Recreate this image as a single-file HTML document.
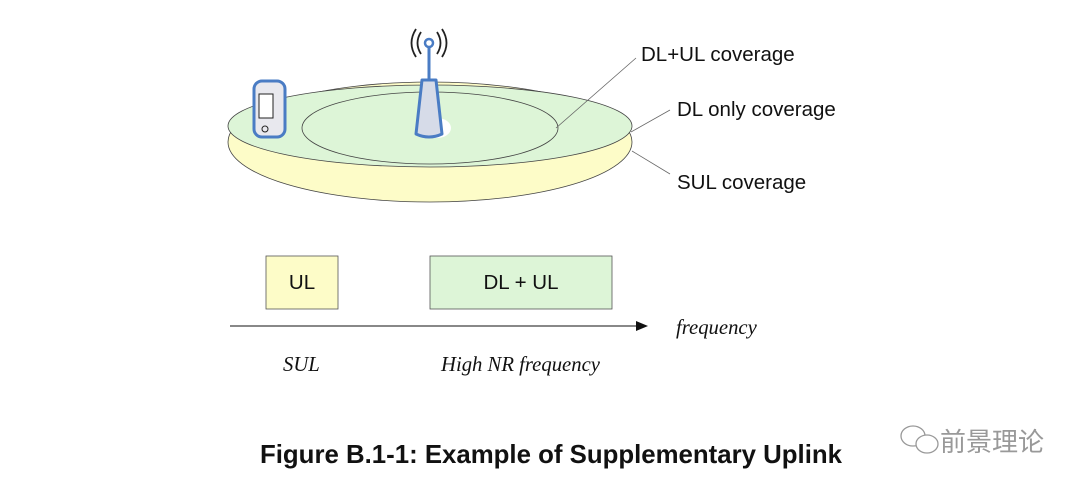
<!DOCTYPE html>
<html><head><style>
body{margin:0;background:#fff;}
</style></head><body>
<svg width="1080" height="489" xmlns="http://www.w3.org/2000/svg" style="display:block">
<rect width="1080" height="489" fill="#fff"/>
<ellipse cx="430" cy="142" rx="202" ry="60" fill="#fdfcc8" stroke="#444" stroke-width="0.8"/>
<ellipse cx="430" cy="126" rx="202" ry="41" fill="#ddf5d7" stroke="#444" stroke-width="0.8"/>
<ellipse cx="430" cy="128" rx="128" ry="36" fill="none" stroke="#444" stroke-width="0.8"/>
<ellipse cx="437" cy="128" rx="14" ry="10" fill="#fff"/>
<line x1="556" y1="128" x2="636" y2="58" stroke="#666" stroke-width="0.8"/>
<line x1="631" y1="132" x2="670" y2="110" stroke="#666" stroke-width="0.8"/>
<line x1="632" y1="151" x2="670" y2="174" stroke="#666" stroke-width="0.8"/>
<line x1="429" y1="44" x2="429" y2="80" stroke="#4a7cc4" stroke-width="3"/>
<circle cx="429" cy="43" r="4" fill="#fff" stroke="#4a7cc4" stroke-width="2.5"/>
<path d="M421 32 Q414 43 421 54 M416 29 Q407 43 416 57 M437 32 Q444 43 437 54 M442 29 Q451 43 442 57" fill="none" stroke="#222" stroke-width="1.8"/>
<path d="M422 80 L436 80 L442 134 Q429 140 416 134 Z" fill="#d6dbe8" stroke="#4a7cc4" stroke-width="3" stroke-linejoin="round"/>
<rect x="254" y="81" width="31" height="56" rx="8" fill="#e8e8ee" stroke="#4a7cc4" stroke-width="3"/>
<rect x="259" y="94" width="14" height="24" fill="#fff" stroke="#222" stroke-width="1"/>
<circle cx="265" cy="129" r="3" fill="none" stroke="#222"/>
<g font-family="Liberation Sans, sans-serif" font-size="20.5" fill="#111">
<text x="641" y="61">DL+UL coverage</text>
<text x="677" y="116">DL only coverage</text>
<text x="677" y="189">SUL coverage</text>
</g>
<rect x="266" y="256" width="72" height="53" fill="#fdfcc8" stroke="#555" stroke-width="0.8"/>
<rect x="430" y="256" width="182" height="53" fill="#ddf5d7" stroke="#555" stroke-width="0.8"/>
<g font-family="Liberation Sans, sans-serif" font-size="20.5" fill="#111" text-anchor="middle">
<text x="302" y="289">UL</text>
<text x="521" y="289">DL + UL</text>
</g>
<line x1="230" y1="326" x2="640" y2="326" stroke="#111" stroke-width="1"/>
<path d="M648 326 L636 321 L636 331 Z" fill="#111"/>
<g font-family="Liberation Serif, serif" font-style="italic" font-size="20.7" fill="#111">
<text x="676" y="334">frequency</text>
<text x="283" y="371">SUL</text>
<text x="441" y="371">High NR frequency</text>
</g>
<text x="551" y="463" text-anchor="middle" font-family="Liberation Sans, sans-serif" font-weight="bold" font-size="25.8" fill="#111">Figure B.1-1: Example of Supplementary Uplink</text>
<g fill="none" stroke="#999" stroke-width="1.3">
<ellipse cx="913" cy="436" rx="12" ry="10"/>
<ellipse cx="927" cy="444" rx="11" ry="9" fill="#fff"/>
</g>
<text x="940" y="451" font-family="Liberation Sans, Noto Sans CJK SC, sans-serif" font-size="26" fill="#999">前景理论</text>
</svg>
</body></html>
